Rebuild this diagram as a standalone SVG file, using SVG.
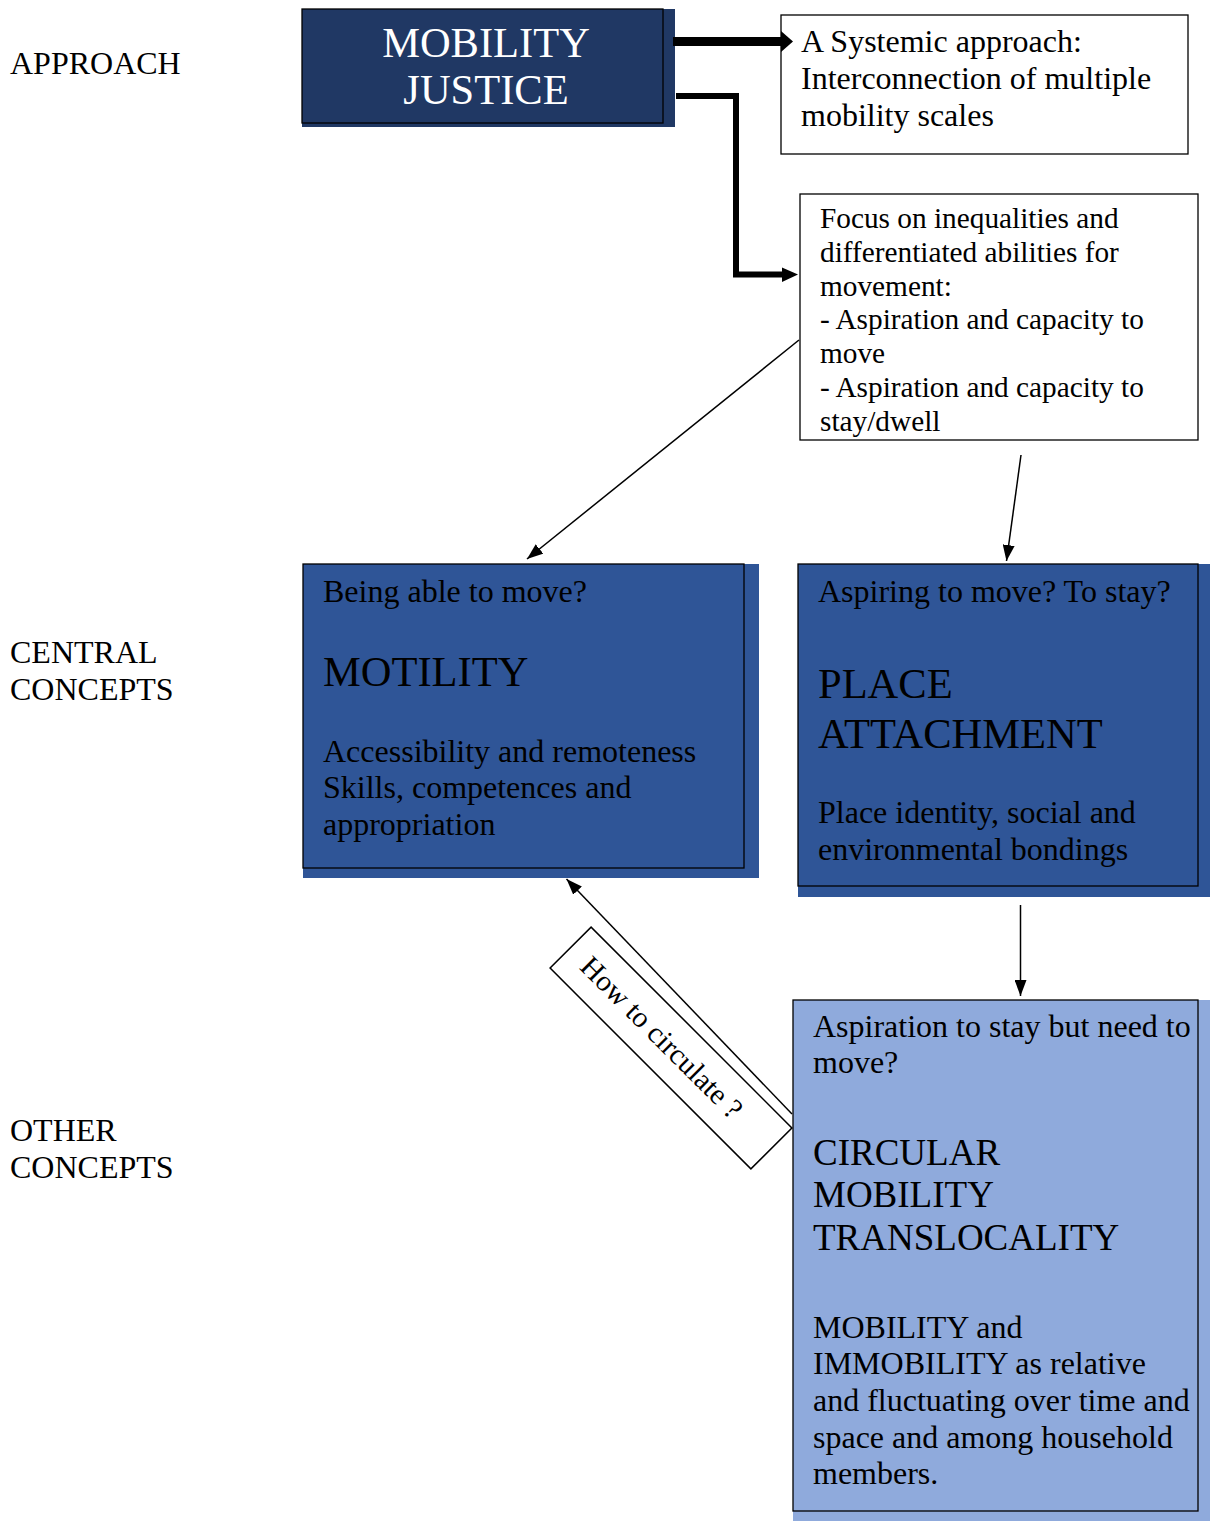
<svg xmlns="http://www.w3.org/2000/svg" width="1210" height="1521" viewBox="0 0 1210 1521">
<defs>
<style>
text{font-family:"Liberation Serif","Times New Roman",serif;fill:#000}
.lbl{font-size:32px}
.b32{font-size:32px}
.b29{font-size:29.3px}
.big{font-size:42.5px}
.mid{font-size:37px}
.white{fill:#fff}
.frame{fill:none;stroke:#000;stroke-width:1.3}
.thin{fill:none;stroke:#000;stroke-width:1.5}
</style>
<marker id="ah" viewBox="0 0 16 12" markerWidth="16" markerHeight="12" refX="16" refY="6" orient="auto" markerUnits="userSpaceOnUse"><path d="M0,0 L16,6 L0,12 z" fill="#000"/></marker>
</defs>
<rect width="1210" height="1521" fill="#fff"/>

<g id="labels">
<text class="lbl" x="10" y="74">APPROACH</text>
<text class="lbl" x="10" y="663">CENTRAL</text>
<text class="lbl" x="10" y="700">CONCEPTS</text>
<text class="lbl" x="10" y="1141">OTHER</text>
<text class="lbl" x="10" y="1178">CONCEPTS</text>
</g>

<g id="mobility-justice">
<rect x="302" y="9" width="373" height="118" fill="#203864"/>
<rect x="302" y="9" width="361" height="114" class="frame"/>
<text class="big white" x="486" y="57" text-anchor="middle">MOBILITY</text>
<text class="big white" x="486" y="104" text-anchor="middle">JUSTICE</text>
</g>

<g id="systemic">
<rect x="781" y="15" width="407" height="139" fill="#fff" stroke="#000" stroke-width="1.3"/>
<text class="b32" x="801" y="52">A Systemic approach:</text>
<text class="b32" x="801" y="89">Interconnection of multiple</text>
<text class="b32" x="801" y="126">mobility scales</text>
</g>

<g id="focus">
<rect x="800" y="194" width="398" height="246" fill="#fff" stroke="#000" stroke-width="1.3"/>
<text class="b29" x="820" y="228">Focus on inequalities and</text>
<text class="b29" x="820" y="262">differentiated abilities for</text>
<text class="b29" x="820" y="296">movement:</text>
<text class="b29" x="820" y="329">- Aspiration and capacity to</text>
<text class="b29" x="820" y="363">move</text>
<text class="b29" x="820" y="397">- Aspiration and capacity to</text>
<text class="b29" x="820" y="431">stay/dwell</text>
</g>

<g id="motility">
<rect x="303" y="564" width="456" height="314" fill="#2F5597"/>
<rect x="303" y="564" width="441" height="304" class="frame"/>
<text class="b32" x="323" y="602">Being able to move?</text>
<text class="big" x="323" y="686">MOTILITY</text>
<text class="b32" x="323" y="762">Accessibility and remoteness</text>
<text class="b32" x="323" y="798">Skills, competences and</text>
<text class="b32" x="323" y="835">appropriation</text>
</g>

<g id="place-attachment">
<rect x="798" y="564" width="412" height="333" fill="#2F5597"/>
<rect x="798" y="564" width="400" height="322" class="frame"/>
<text class="b32" x="818" y="602">Aspiring to move? To stay?</text>
<text class="big" x="818" y="698">PLACE</text>
<text class="big" x="818" y="748">ATTACHMENT</text>
<text class="b32" x="818" y="823">Place identity, social and</text>
<text class="b32" x="818" y="860">environmental bondings</text>
</g>

<g id="circular">
<rect x="793" y="1000" width="417" height="521" fill="#8FAADC"/>
<rect x="793" y="1000" width="405" height="511" class="frame"/>
<text class="b32" x="813" y="1037">Aspiration to stay but need to</text>
<text class="b32" x="813" y="1073">move?</text>
<text class="mid" x="813" y="1165">CIRCULAR</text>
<text class="mid" x="813" y="1207">MOBILITY</text>
<text class="mid" x="813" y="1250">TRANSLOCALITY</text>
<text class="b32" x="813" y="1338">MOBILITY and</text>
<text class="b32" x="813" y="1374">IMMOBILITY as relative</text>
<text class="b32" x="813" y="1411">and fluctuating over time and</text>
<text class="b32" x="813" y="1448">space and among household</text>
<text class="b32" x="813" y="1484">members.</text>
</g>

<g id="connectors">
<path d="M673,41.5 H782" fill="none" stroke="#000" stroke-width="9"/>
<path d="M781,31 L793,41.5 L781,52 z" fill="#000"/>
<path d="M676,96 H736 V274.5 H783" fill="none" stroke="#000" stroke-width="6"/>
<path d="M782,267.5 L798,274.5 L782,282 z" fill="#000"/>
<line x1="799" y1="340" x2="527" y2="559" class="thin" marker-end="url(#ah)"/>
<line x1="1021" y1="455" x2="1006.5" y2="561" class="thin" marker-end="url(#ah)"/>
<line x1="1020.5" y1="905" x2="1020.5" y2="996" class="thin" marker-end="url(#ah)"/>
<line x1="792" y1="1114" x2="566.5" y2="879" class="thin" marker-end="url(#ah)"/>
</g>

<g id="how-to-circulate" transform="translate(671,1048) rotate(45)">
<rect x="-142" y="-29" width="284" height="58" fill="#fff" stroke="#000" stroke-width="1.5"/>
<text class="b29" x="-14" y="9" text-anchor="middle">How to circulate ?</text>
</g>
</svg>
